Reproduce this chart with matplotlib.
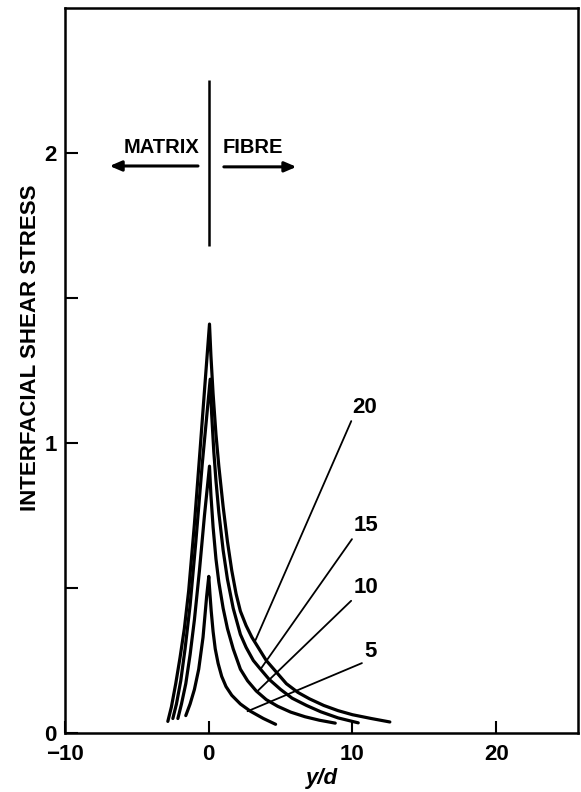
import matplotlib
matplotlib.use('Agg')
import matplotlib.pyplot as plt

plt.rcParams['font.family'] = ['Liberation Sans', 'DejaVu Sans']
plt.rcParams['font.weight'] = 'bold'

# curves, one per aspect ratio label
x5 = [-1.6, -1.3, -1.0, -0.7, -0.4, -0.15, 0.0, 0.08, 0.17, 0.3, 0.45, 0.65, 0.9, 1.2, 1.6, 2.2, 2.9, 3.8, 4.65]
y5 = [0.06, 0.10, 0.15, 0.22, 0.33, 0.47, 0.54, 0.48, 0.42, 0.35, 0.29, 0.24, 0.195, 0.16, 0.13, 0.10, 0.075, 0.05, 0.03]

x10 = [-2.15, -1.9, -1.6, -1.3, -1.0, -0.65, -0.3, 0.05, 0.15, 0.3, 0.5, 0.7, 1.0, 1.3, 1.7, 2.2, 2.7, 3.3, 4.0, 4.8, 5.7, 6.7, 7.7, 8.8]
y10 = [0.05, 0.10, 0.17, 0.27, 0.39, 0.56, 0.75, 0.92, 0.82, 0.71, 0.60, 0.52, 0.43, 0.36, 0.29, 0.22, 0.18, 0.145, 0.115, 0.092, 0.072, 0.056, 0.044, 0.034]

x15 = [-2.5, -2.25, -1.95, -1.65, -1.3, -0.9, -0.45, 0.1, 0.2, 0.35, 0.5, 0.7, 1.0, 1.3, 1.7, 2.2, 2.6, 3.1, 3.6, 4.2, 5.0, 5.8, 6.8, 7.8, 9.0, 10.4]
y15 = [0.05, 0.10, 0.18, 0.29, 0.44, 0.66, 0.93, 1.22, 1.10, 0.97, 0.87, 0.76, 0.63, 0.53, 0.43, 0.34, 0.295, 0.25, 0.22, 0.185, 0.15, 0.12, 0.095, 0.073, 0.052, 0.035]

x20 = [-2.85, -2.6, -2.3, -2.0, -1.7, -1.4, -1.0, -0.6, -0.3, 0.05, 0.15, 0.3, 0.5, 0.7, 1.0, 1.3, 1.6, 1.9, 2.2, 2.6, 3.0, 3.5, 4.0, 4.7, 5.4, 6.2, 7.0, 8.0, 9.0, 10.0, 11.3, 12.6]
y20 = [0.04, 0.09, 0.17, 0.26, 0.36, 0.49, 0.72, 0.98, 1.18, 1.41, 1.30, 1.17, 1.03, 0.92, 0.78, 0.66, 0.56, 0.48, 0.42, 0.37, 0.33, 0.29, 0.25, 0.21, 0.17, 0.14, 0.118, 0.095, 0.077, 0.063, 0.05, 0.038]

curve_labels = ['5', '10', '15', '20']
label_text_pos = [(10.85, 0.245), (10.1, 0.465), (10.1, 0.678), (10.0, 1.085)]
label_point = [(2.7, 0.075), (3.4, 0.145), (3.6, 0.22), (3.25, 0.32)]

fig = plt.figure(figsize=(5.81, 7.92), dpi=100)
ax = fig.add_axes([0.112, 0.0745, 0.883, 0.9155])

for xs, ys in [(x5, y5), (x10, y10), (x15, y15), (x20, y20)]:
    ax.plot(xs, ys, color='black', lw=2.3, solid_capstyle='round', solid_joinstyle='round')

for lab, tp, pt in zip(curve_labels, label_text_pos, label_point):
    ax.annotate(lab, xy=pt, xytext=tp, fontsize=16, fontweight='bold',
                ha='left', va='bottom',
                arrowprops=dict(arrowstyle='-', lw=1.3, color='black',
                                shrinkA=0, shrinkB=0, relpos=(0, 0)))

# matrix / fibre divider
ax.vlines(0.05, 1.68, 2.25, color='black', lw=1.8)
ax.text(-3.3, 1.985, 'MATRIX', fontsize=14.5, fontweight='bold', ha='center', va='bottom')
ax.text(3.05, 1.985, 'FIBRE', fontsize=14.5, fontweight='bold', ha='center', va='bottom')
ax.annotate('', xy=(-6.9, 1.955), xytext=(-0.75, 1.955),
            arrowprops=dict(arrowstyle='-|>,head_length=0.7,head_width=0.3', lw=2.2,
                            color='black', shrinkA=0, shrinkB=0))
ax.annotate('', xy=(6.1, 1.952), xytext=(1.05, 1.952),
            arrowprops=dict(arrowstyle='-|>,head_length=0.7,head_width=0.3', lw=2.2,
                            color='black', shrinkA=0, shrinkB=0))

ax.set_xlim(-10, 25.7)
ax.set_ylim(0, 2.5)
ax.set_xticks([-10, 0, 10, 20])
ax.set_xticklabels(['\u221210', '0', '10', '20'])
ax.set_yticks([0, 0.5, 1, 1.5, 2])
ax.set_yticklabels(['0', '', '1', '', '2'])
ax.tick_params(direction='in', length=9, width=1.5, labelsize=16, pad=6)
ax.tick_params(axis='x', pad=8)
for s in ax.spines.values():
    s.set_linewidth(1.8)

ax.set_xlabel('y/d', fontsize=16, fontstyle='italic', fontweight='bold', labelpad=2)
ax.set_ylabel('INTERFACIAL SHEAR STRESS', fontsize=16, fontweight='bold')
ax.yaxis.set_label_coords(-0.047, 0.531)

fig.savefig('out.png', dpi=100)
